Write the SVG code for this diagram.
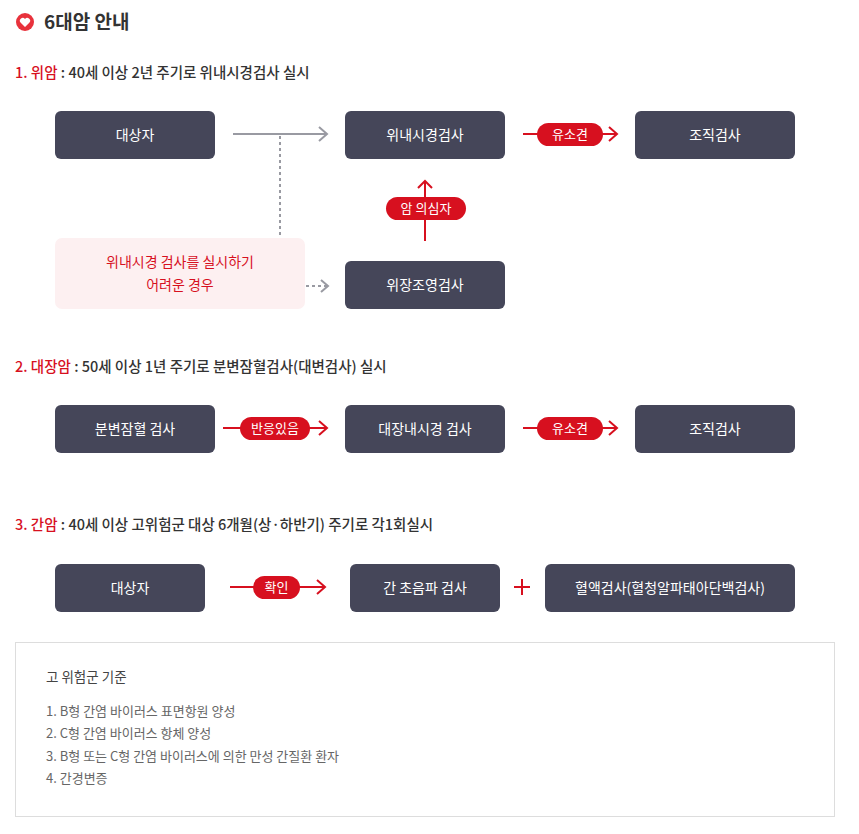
<svg xmlns="http://www.w3.org/2000/svg" width="859" height="834" viewBox="0 0 859 834">
<style>
text{font-family:"Noto Sans CJK KR","Noto Sans",sans-serif}
.n{fill:#454659}
.nt{fill:#fff;font-size:14px;text-anchor:middle}
.h{font-size:14.5px;fill:#333;font-weight:500}
.r{fill:#d7101f}
.g{stroke:#999aa2;stroke-width:2;fill:none}
.rl{stroke:#d7101f;stroke-width:2;fill:none}
.pt{fill:#fff;font-size:13px;text-anchor:middle}
.li{font-size:13px;fill:#666}
</style>
<rect width="859" height="834" fill="#fff"/>
<g id="title">
<circle cx="25" cy="22" r="9" fill="#e8323c"/>
<path d="M25 27 L20.5 22.5 A2.6 2.6 0 0 1 25 19 A2.6 2.6 0 0 1 29.5 22.5 Z" fill="#fff"/>
<text x="44" y="29" font-size="19" font-weight="bold" fill="#333">6대암 안내</text>
</g>
<g id="headers">
<text x="15" y="78" class="h"><tspan class="r">1. 위암</tspan> : 40세 이상 2년 주기로 위내시경검사 실시</text>
<text x="15" y="372" class="h"><tspan class="r">2. 대장암</tspan> : 50세 이상 1년 주기로 분변잠혈검사(대변검사) 실시</text>
<text x="15" y="530" class="h"><tspan class="r">3. 간암</tspan> : 40세 이상 고위험군 대상 6개월(상·하반기) 주기로 각1회실시</text>
</g>
<g id="connectors">
<path class="g" d="M233 134H327M319 127l8 7-8 7"/>
<path d="M280 136V237" stroke="#999aa2" stroke-width="2" stroke-dasharray="3 3"/>
<path d="M306 286H327" stroke="#999aa2" stroke-width="2" stroke-dasharray="3 3"/>
<path class="g" d="M321 280l7 6-7 6"/>
<path class="rl" d="M425 241V181M418 188l7-7 7 7"/>
<path class="rl" d="M523 134H616M609 127l8 7-8 7"/>
<path class="rl" d="M223 428H327M319 421l8 7-8 7"/>
<path class="rl" d="M523 428H616M609 421l8 7-8 7"/>
<path class="rl" d="M230 587H324M317 580l8 7-8 7"/>
<path class="rl" d="M514 587H530M522 579V595"/>
<rect x="537" y="123" width="66" height="23" rx="11.5" class="r"/><text x="570" y="139" class="pt">유소견</text>
<rect x="386" y="197" width="80" height="23" rx="11.5" class="r"/><text x="426" y="213" class="pt">암 의심자</text>
<rect x="240" y="417" width="70" height="23" rx="11.5" class="r"/><text x="275" y="433" class="pt">반응있음</text>
<rect x="537" y="417" width="66" height="23" rx="11.5" class="r"/><text x="570" y="433" class="pt">유소견</text>
<rect x="253" y="576" width="47" height="23" rx="11.5" class="r"/><text x="276.5" y="592" class="pt">확인</text>
</g>
<g id="n1"><rect x="55" y="111" width="160" height="48" rx="6" class="n"/><text x="135" y="140" class="nt">대상자</text></g>
<g id="n2"><rect x="345" y="111" width="160" height="48" rx="6" class="n"/><text x="425" y="140" class="nt">위내시경검사</text></g>
<g id="n3"><rect x="635" y="111" width="160" height="48" rx="6" class="n"/><text x="715" y="140" class="nt">조직검사</text></g>
<g id="n4"><rect x="55" y="238" width="250" height="71" rx="7" fill="#fdf0f1"/><text x="180" y="267" font-size="14" fill="#d7101f" text-anchor="middle">위내시경 검사를 실시하기</text><text x="180" y="290" font-size="14" fill="#d7101f" text-anchor="middle">어려운 경우</text></g>
<g id="n5"><rect x="345" y="261" width="160" height="48" rx="6" class="n"/><text x="425" y="290" class="nt">위장조영검사</text></g>
<g id="n6"><rect x="55" y="405" width="160" height="48" rx="6" class="n"/><text x="135" y="434" class="nt">분변잠혈 검사</text></g>
<g id="n7"><rect x="345" y="405" width="160" height="48" rx="6" class="n"/><text x="425" y="434" class="nt">대장내시경 검사</text></g>
<g id="n8"><rect x="635" y="405" width="160" height="48" rx="6" class="n"/><text x="715" y="434" class="nt">조직검사</text></g>
<g id="n9"><rect x="55" y="564" width="150" height="48" rx="6" class="n"/><text x="130" y="593" class="nt">대상자</text></g>
<g id="n10"><rect x="350" y="564" width="150" height="48" rx="6" class="n"/><text x="425" y="593" class="nt">간 초음파 검사</text></g>
<g id="n11"><rect x="545" y="564" width="250" height="48" rx="6" class="n"/><text x="670" y="593" class="nt">혈액검사(혈청알파태아단백검사)</text></g>
<g id="criteria">
<rect x="15.5" y="642.5" width="819" height="174" fill="#fff" stroke="#ddd"/>
<text x="46" y="682" font-size="13.5" fill="#444">고 위험군 기준</text>
<text x="46" y="716" class="li">1. B형 간염 바이러스 표면항원 양성</text>
<text x="46" y="738" class="li">2. C형 간염 바이러스 항체 양성</text>
<text x="46" y="761" class="li">3. B형 또는 C형 간염 바이러스에 의한 만성 간질환 환자</text>
<text x="46" y="783" class="li">4. 간경변증</text>
</g>
</svg>
